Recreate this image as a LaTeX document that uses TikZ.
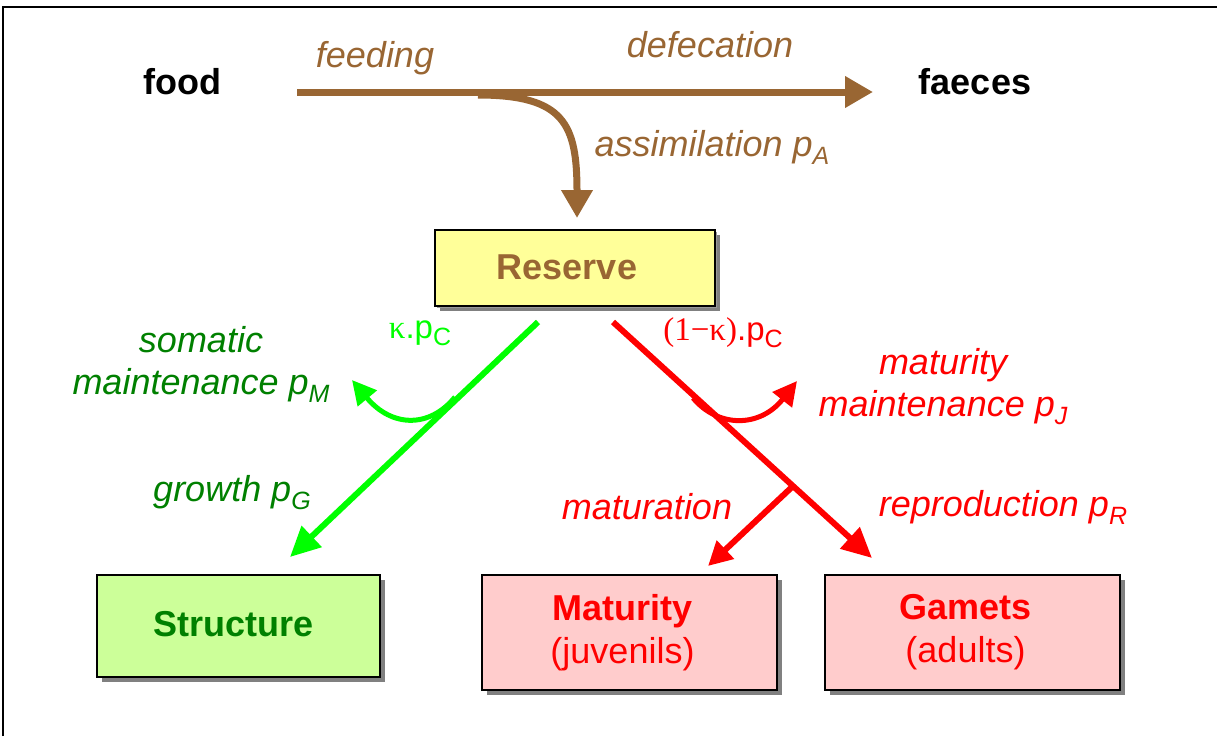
\documentclass[tikz,border=0pt]{standalone}
\usepackage{fontspec}
\setmainfont{Liberation Sans}
\newfontfamily\serifrm{Liberation Serif}
\usetikzlibrary{arrows.meta,shadows}
\definecolor{brn}{RGB}{153,102,51}
\definecolor{lgreen}{RGB}{0,255,0}
\definecolor{dgreen}{RGB}{0,128,0}
\definecolor{pred}{RGB}{255,0,0}
\definecolor{resfill}{RGB}{255,255,153}
\definecolor{strfill}{RGB}{204,255,153}
\definecolor{matfill}{RGB}{255,204,204}
\newcommand\mysub[1]{\raisebox{-0.22em}{\fontsize{25}{25}\selectfont #1}}
\newcommand\boxtxtleft[1]{#1\hspace*{14pt}}
\tikzset{
  lbl/.style={inner sep=0pt, font=\fontsize{36}{42}\selectfont\itshape, align=center},
  boxstyle/.style={draw=black, line width=2.5pt, inner sep=0pt,
    drop shadow={shadow xshift=5pt, shadow yshift=-5pt, fill=black!50, opacity=1}},
  flowbrown/.style={draw=brn, line width=7pt, -{Triangle[length=28pt,width=30pt]}},
  flowgreen/.style={draw=lgreen, line width=6pt},
  flowred/.style={draw=pred, line width=6pt},
  bigtip/.style={-{Triangle[length=30pt,width=28pt]}},
  smalltip/.style={-{Triangle[length=24pt,width=24pt]}},
}
\begin{document}
\begin{tikzpicture}[x=1pt,y=1pt]
\useasboundingbox (0,0) rectangle (1217,-736);
% frame
\draw[line width=2pt] (3,-736) -- (3,-7) -- (1217,-7);

% top texts
\node[inner sep=0pt, font=\fontsize{36}{42}\selectfont\bfseries] (food) at (182,-82) {food};
\node[inner sep=0pt, font=\fontsize{36}{42}\selectfont\bfseries] (faeces) at (975,-82) {faeces};
\node[lbl, text=brn] (feeding) at (375,-58) {feeding};
\node[lbl, text=brn] (defec) at (710,-45) {defecation};
\node[lbl, text=brn] (assim) at (712,-147) {assimilation p\mysub{A}};

% boxes
\node[boxstyle, fill=resfill, minimum width=280pt, minimum height=76pt,
  drop shadow={shadow xshift=1.5pt, shadow yshift=-2pt, fill=black!40, opacity=1},
  font=\fontsize{36}{42}\selectfont\bfseries, text=brn] (reserve) at (575,-268) {\raisebox{2pt}{Reserve}\hspace*{16pt}};
\node[boxstyle, fill=strfill, minimum width=283pt, minimum height=102pt,
  font=\fontsize{36}{42}\selectfont\bfseries, text=dgreen] (structure) at (238.5,-626) {\raisebox{5pt}{Structure}\hspace*{10pt}};
\node[boxstyle, fill=matfill, minimum width=295pt, minimum height=115pt,
  font=\fontsize{36}{43}\selectfont, text=pred, align=center] (maturity) at (629.5,-632.5)
  {\boxtxtleft{\textbf{Maturity}}\\\boxtxtleft{(juvenils)}};
\node[boxstyle, fill=matfill, minimum width=295pt, minimum height=115pt,
  font=\fontsize{36}{43}\selectfont, text=pred, align=center] (gamets) at (972.5,-632.5)
  {\boxtxtleft{\textbf{Gamets}}\\\boxtxtleft{(adults)}};

% brown flows
\coordinate (fstart) at (297,-92);
\coordinate (fend) at (873,-92);
\coordinate (astart) at (478,-95);
\coordinate (aend) at (577,-218);
\draw[flowbrown] (fstart) -- (fend);
\draw[flowbrown] (astart) .. controls (565,-95) and (577,-125) .. (aend);

% green flows
\coordinate (gstart) at (538,-322);
\coordinate (gend) at (290,-557);
\coordinate (gbr) at (455,-397);
\coordinate (gmend) at (352,-380);
\draw[flowgreen, bigtip] (gstart) -- (gend);
\draw[flowgreen, line width=5pt, smalltip] (gbr) .. controls (430,-428) and (392,-428) .. (gmend);
\node[inner sep=0pt, text=lgreen, font=\fontsize{33}{40}\selectfont] (kpc) at (420,-333) {{\serifrm κ}.p\mysub{C}};
\node[lbl, text=dgreen] (soma) at (201,-364) {somatic\\maintenance p\mysub{M}};
\node[lbl, text=dgreen] (growth) at (232,-493) {growth p\mysub{G}};

% red flows
\coordinate (rstart) at (613,-322);
\coordinate (rend) at (872,-558);
\coordinate (rbr) at (693,-398);
\coordinate (rmend) at (797,-381);
\coordinate (mbr) at (792,-487);
\coordinate (mend) at (708,-566);
\draw[flowred, bigtip] (rstart) -- (rend);
\draw[flowred, line width=5pt, smalltip] (rbr) .. controls (718,-428) and (760,-428) .. (rmend);
\draw[flowred, smalltip] (mbr) -- (mend);
\node[inner sep=0pt, text=pred, font=\fontsize{33}{40}\selectfont] (kpc2) at (723,-333) {{\serifrm (1−κ)}.p\mysub{C}};
\node[lbl, text=pred] (matmain) at (943,-387) {maturity\\maintenance p\mysub{J}};
\node[lbl, text=pred] (matur) at (647,-507) {maturation};
\node[lbl, text=pred] (repro) at (1003,-507) {reproduction p\mysub{R}};
\end{tikzpicture}
\end{document}
